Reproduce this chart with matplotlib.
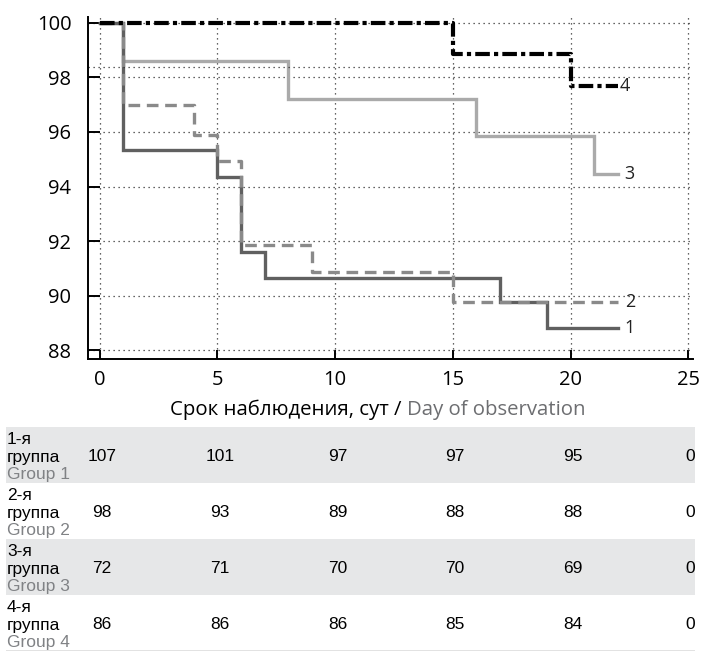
import matplotlib
matplotlib.use("Agg")
import matplotlib.pyplot as plt
from matplotlib.patches import Rectangle

# survival curves (steps-post): day where each level starts, level in %
days_1 = [0, 1, 5, 6, 7, 17, 19, 22]
surv_1 = [100, 95.35, 94.35, 91.6, 90.65, 89.75, 88.8, 88.8]
days_2 = [0, 1, 4, 5, 6, 9, 15, 22]
surv_2 = [100, 97.0, 95.9, 94.95, 91.85, 90.85, 89.75, 89.75]
days_3 = [0, 1, 8, 16, 21, 22]
surv_3 = [100, 98.6, 97.2, 95.85, 94.45, 94.45]
days_4 = [0, 15, 20, 22]
surv_4 = [100, 98.85, 97.7, 97.7]

x_ticks = [0, 5, 10, 15, 20, 25]
y_ticks = [88, 90, 92, 94, 96, 98, 100]

# numbers at risk table
row_ru = ["1-я\nгруппа", "2-я\nгруппа", "3-я\nгруппа", "4-я\nгруппа"]
row_en = ["Group 1", "Group 2", "Group 3", "Group 4"]
at_risk = [
    [107, 101, 97, 97, 95, 0],
    [98, 93, 89, 88, 88, 0],
    [72, 71, 70, 70, 69, 0],
    [86, 86, 86, 85, 84, 0],
]

W, H = 705, 656
fig = plt.figure(figsize=(W / 100, H / 100), dpi=100)

font_main = "Open Sans"
font_tab = ["Liberation Sans Narrow", "Liberation Sans", "DejaVu Sans"]

# main plot, pixel box 88..693 x 17..359
ax = fig.add_axes([88 / W, (H - 359) / H, 605 / W, 342 / H])
xmin, xmax = -0.5, 25.2
ax.set_xlim(xmin, xmax)
ax.set_ylim(87.67, 100.22)

ax.plot(days_3, surv_3, drawstyle="steps-post", color="#aaaaaa", lw=2.4, solid_joinstyle="miter")
ax.plot(days_1, surv_1, drawstyle="steps-post", color="#606060", lw=2.4, solid_joinstyle="miter")
ax.plot(days_2, surv_2, drawstyle="steps-post", color="#8a8a8a", lw=2.4, dashes=(3.5, 2))
ax.plot(days_4, surv_4, drawstyle="steps-post", color="black", lw=3, dashes=(3.5, 1, 1, 1))

ax.text(22.1, surv_4[-1], "4", fontsize=13, va="center", ha="left", family=font_main, color="#222222")
ax.text(22.3, surv_3[-1], "3", fontsize=13, va="center", ha="left", family=font_main, color="#222222")
ax.text(22.3, surv_2[-1], "2", fontsize=13, va="center", ha="left", family=font_main, color="#222222")
ax.text(22.3, surv_1[-1], "1", fontsize=13, va="center", ha="left", family=font_main, color="#222222")

ax.set_xticks(x_ticks)
ax.set_yticks(y_ticks)
ax.grid(True, linestyle=(0, (1, 3)), color="#333333", lw=0.9)
ax.axhline(98.4, linestyle=(0, (1, 3)), color="#333333", lw=0.9)
ax.set_axisbelow(True)
for s in ["top", "right"]:
    ax.spines[s].set_visible(False)
for s in ["left", "bottom"]:
    ax.spines[s].set_linewidth(1.4)
ax.tick_params(axis="y", direction="in", length=8.6, width=1.4, pad=12, labelsize=14.5)
ax.tick_params(axis="x", direction="in", length=6.5, width=1.4, pad=8, labelsize=14.5)
for lab in ax.get_xticklabels() + ax.get_yticklabels():
    lab.set_family(font_main)

# two-colour x label
t1 = fig.text(0, 0, "Срок наблюдения, сут / ", fontsize=14.7, family=font_main, color="black")
t2 = fig.text(0, 0, "Day of observation", fontsize=14.7, family=font_main, color="#6d6e71")
fig.canvas.draw()
r = fig.canvas.get_renderer()
w1 = t1.get_window_extent(r).width
w2 = t2.get_window_extent(r).width
cx = 378
yb = (H - 415) / H
t1.set_position(((cx - (w1 + w2) / 2) / W, yb))
t2.set_position(((cx - (w1 + w2) / 2 + w1) / W, yb))

# table, pixel box 6..695 x 427..651
scale = 605 / (xmax - xmin)
tab = fig.add_axes([6 / W, (H - 651) / H, 689 / W, 224 / H])
tab.set_xlim(xmin - 82 / scale, xmax + 2 / scale)
tab.set_ylim(4, 0)
tab.axis("off")
for i in range(4):
    if i % 2 == 0:
        tab.add_patch(Rectangle((tab.get_xlim()[0], i), tab.get_xlim()[1] - tab.get_xlim()[0], 1,
                                facecolor="#e6e7e8", edgecolor="none"))
    x0 = tab.get_xlim()[0] + 1 / scale
    ru1, ru2 = row_ru[i].split("\n")
    tab.text(x0, i + 0.23, ru1, fontsize=12.5, family=font_tab, va="center", ha="left", color="black")
    tab.text(x0, i + 0.54, ru2, fontsize=12.5, family=font_tab, va="center", ha="left", color="black")
    tab.text(x0, i + 0.84, row_en[i], fontsize=12.5, family=font_tab, va="center", ha="left", color="#808285")
    for j, v in enumerate(at_risk[i]):
        tab.text(x_ticks[j] + 0.1, i + 0.52, str(v), fontsize=12.5, family=font_tab,
                 va="center", ha="center", color="black")
tab.axhline(4, color="#dddddd", lw=1.2)

fig.savefig("out.png", dpi=100)
